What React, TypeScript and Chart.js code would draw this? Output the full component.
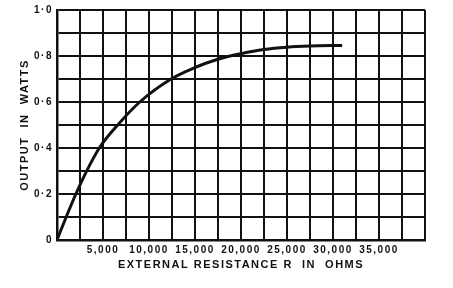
import React, { useEffect, useRef } from "react";
import { Chart, registerables } from "chart.js";

Chart.register(...registerables);

// Curve: external resistance R (ohms) vs output (watts)
const resistance = [0, 1000, 2050, 3100, 4600, 6600, 9000, 12400, 15000, 17400, 20000, 22500, 25000, 27500, 31000];
const output = [0, 0.1, 0.2, 0.29, 0.4, 0.5, 0.6, 0.7, 0.75, 0.785, 0.81, 0.828, 0.838, 0.843, 0.846];

const xTickValues = [5000, 10000, 15000, 20000, 25000, 30000, 35000];
const xTickLabels = ["5,000", "10,000", "15,000", "20,000", "25,000", "30,000", "35,000"];
const yTickValues = [0, 0.2, 0.4, 0.6, 0.8, 1.0];
const yTickLabels = ["0", "0·2", "0·4", "0·6", "0·8", "1·0"];

const xTitle = "EXTERNAL RESISTANCE R  IN  OHMS";
const yTitle = "OUTPUT  IN  WATTS";

const FONT = "'Liberation Sans', Arial, sans-serif";
const INK = "#111";

const spacingPlugin = {
  id: "letterSpacing",
  beforeLayout(chart: any) {
    chart.ctx.letterSpacing = "1.5px";
  },
  beforeDraw(chart: any) {
    chart.ctx.letterSpacing = "1.5px";
  },
};

function lookup(values: number[], labels: string[], v: number) {
  for (let i = 0; i < values.length; i++) {
    if (Math.abs(values[i] - v) < 1e-6 * Math.max(1, Math.abs(v))) return labels[i];
  }
  return "";
}

export default function App() {
  const ref = useRef<HTMLCanvasElement>(null);

  useEffect(() => {
    document.body.style.margin = "0";
    const canvas = ref.current!;
    const chart = new Chart(canvas, {
      type: "line",
      data: {
        datasets: [
          {
            data: resistance.map((r, i) => ({ x: r, y: output[i] })),
            borderColor: INK,
            borderWidth: 3,
            pointRadius: 0,
            cubicInterpolationMode: "monotone",
            fill: false,
          },
        ],
      },
      options: {
        responsive: false,
        animation: false,
        events: [],
        layout: { padding: { left: 0, right: 28, top: 10, bottom: 0 } },
        plugins: { legend: { display: false }, tooltip: { enabled: false } },
        scales: {
          x: {
            type: "linear",
            min: 0,
            max: 40000,
            afterFit(scale: any) {
              scale.height = 48;
            },
            ticks: {
              stepSize: 2500,
              autoSkip: false,
              maxRotation: 0,
              padding: 4,
              color: INK,
              font: { family: FONT, size: 10, weight: "bold" },
              callback: (v: any) => lookup(xTickValues, xTickLabels, Number(v)),
            },
            grid: { color: INK, lineWidth: 2, drawTicks: false },
            border: { color: INK, width: 2.5 },
            title: {
              display: true,
              text: xTitle,
              color: INK,
              font: { family: FONT, size: 11, weight: "bold" },
              padding: { top: 0, bottom: 16 },
            },
          },
          y: {
            type: "linear",
            min: 0,
            max: 1,
            afterFit(scale: any) {
              scale.width = 57;
            },
            ticks: {
              stepSize: 0.1,
              autoSkip: false,
              padding: 4,
              color: INK,
              font: { family: FONT, size: 10, weight: "bold" },
              callback: (v: any) => lookup(yTickValues, yTickLabels, Number(v)),
            },
            grid: { color: INK, lineWidth: 2, drawTicks: false },
            border: { color: INK, width: 2.5 },
            title: {
              display: true,
              text: yTitle,
              color: INK,
              font: { family: FONT, size: 11, weight: "bold" },
              padding: { top: 18, bottom: 0 },
            },
          },
        },
      },
      plugins: [spacingPlugin],
    } as any);
    return () => chart.destroy();
  }, []);

  return (
    <div style={{ position: "absolute", left: 0, top: 0, width: 453, height: 288, background: "#fff" }}>
      <canvas ref={ref} width={453} height={288} style={{ display: "block" }} />
    </div>
  );
}
